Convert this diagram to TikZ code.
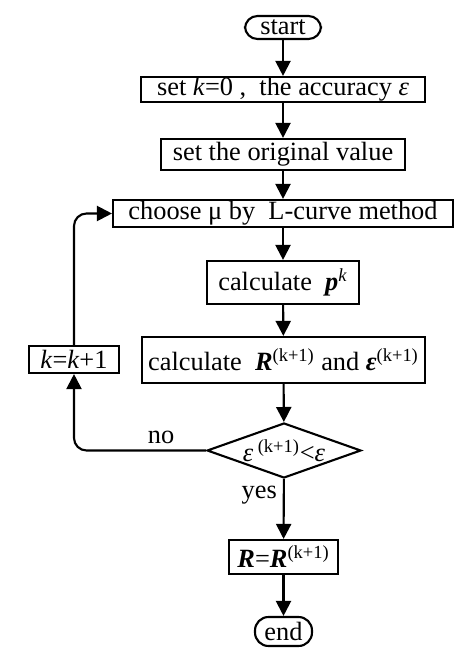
\documentclass[tikz,border=0pt]{standalone}
\usepackage{fontspec}
\setmainfont{Liberation Serif}
\usetikzlibrary{shapes.geometric, arrows.meta}
\tikzstyle{startstop} = [rectangle, rounded corners=0.25cm, draw, line width=1.2pt, inner sep=0pt, text centered]
\tikzstyle{process} = [rectangle, draw, line width=1.2pt, inner sep=0pt, text centered]
\tikzstyle{decision} = [diamond, draw, line width=1.2pt, inner sep=0pt, minimum width=3.08cm, minimum height=1.1cm]
\tikzstyle{arrow} = [line width=1.2pt, -{Triangle[length=0.3cm, width=0.3cm]}]

\begin{document}
\begin{tikzpicture}[font=\fontsize{15}{18}\selectfont]
    \useasboundingbox (0,0) rectangle (9.48,-13);
    \node [startstop, minimum width=1.52cm, minimum height=0.46cm] at (5.66,-0.55) (start) {start};
    \node [process, minimum width=5.68cm, minimum height=0.5cm] at (5.66,-1.79) (init) {set \textit{k}=0 ,\ \ the accuracy \textit{ε}};
    \node [process, minimum width=4.88cm, minimum height=0.62cm] at (5.66,-3.09) (orig) {set the original value};
    \node [process, minimum width=6.8cm, minimum height=0.54cm] at (5.66,-4.27) (choose) {choose μ by\ \ L-curve method};
    \node [process, minimum width=3.04cm, minimum height=0.86cm] at (5.66,-5.65) (calcp) {calculate\ \ \textbf{\textit{p}}\textsuperscript{\textit{k}}};
    \node [process, minimum width=5.66cm, minimum height=0.92cm] at (5.67,-7.2) (calcR) {calculate\ \ \textbf{\textit{R}}\textsuperscript{(k+1)} and \textbf{\textit{ε}}\textsuperscript{(k+1)}};
    \node [process, minimum width=1.8cm, minimum height=0.54cm] at (1.48,-7.19) (kinc) {\textit{k}=\textit{k}+1};
    \node [decision] at (5.68,-9.01) (check) {};
    \node at (check.center) (checktext) {\textit{ε}\,\textsuperscript{(k+1)}<\textit{ε}};
    \node [process, minimum width=2.18cm, minimum height=0.68cm] at (5.67,-11.14) (result) {\textbf{\textit{R}}=\textbf{\textit{R}}\textsuperscript{(k+1)}};
    \node [startstop, minimum width=1.14cm, minimum height=0.58cm, rounded corners=0.27cm] at (5.67,-12.63) (finish) {end};

    \draw [arrow] (start) -- (init);
    \draw [arrow] (init) -- (orig);
    \draw [arrow] (orig) -- (choose);
    \draw [arrow] (choose) -- (calcp);
    \draw [arrow] (calcp) -- (calcR);
    \draw [arrow] (calcR) -- (check);
    \draw [arrow] (check) -- node[left, pos=0.27] {yes} (result);
    \draw [arrow] (result) -- (finish);
    \draw [arrow, rounded corners=0.25cm] (check.west) -| node[above, pos=0.17] {no} (kinc.south);
    \draw [arrow, rounded corners=0.25cm] (kinc.north) |- (choose.west);
\end{tikzpicture}
\end{document}
